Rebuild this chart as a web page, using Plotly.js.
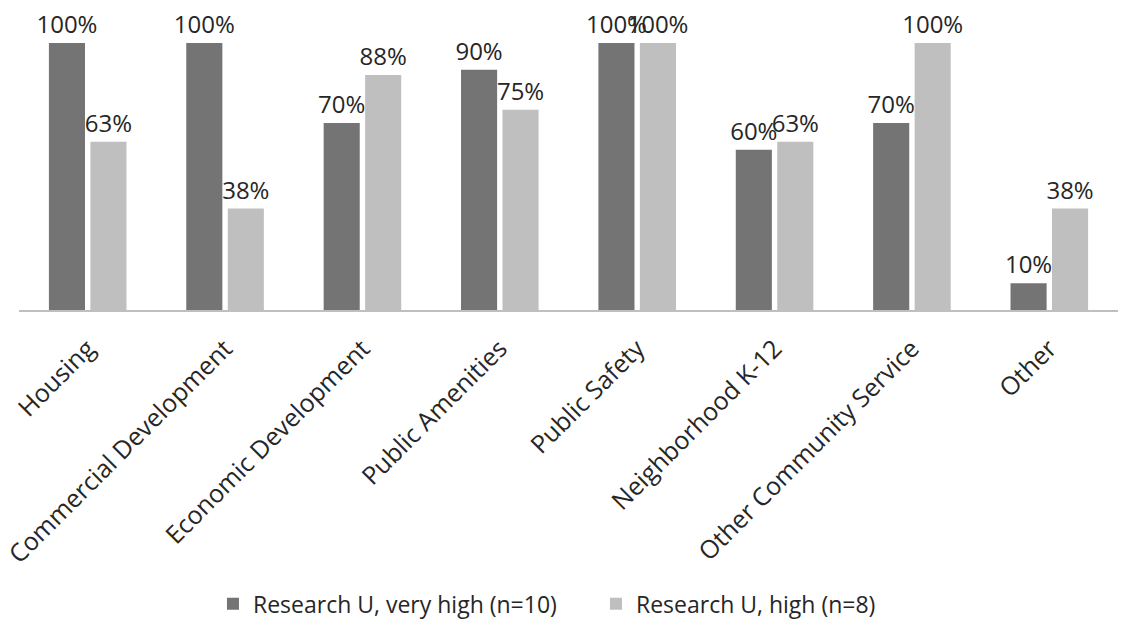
<!DOCTYPE html>
<html>
<head>
<meta charset="utf-8">
<script src="https://cdn.plot.ly/plotly-3.0.1.min.js"></script>
<style>
  html, body { margin: 0; padding: 0; background: #fff; }
  #chart { width: 1121px; height: 628px; }
</style>
</head>
<body>
<div id="chart"></div>
<script>
// Share of institutions reporting each community-investment area
const categories = [
  "Housing", "Commercial Development", "Economic Development", "Public Amenities",
  "Public Safety", "Neighborhood K-12", "Other Community Service", "Other"
];
const veryHighName = "Research U, very high (n=10)";
const veryHighValues = [100, 100, 70, 90, 100, 60, 70, 10];
const highName = "Research U, high (n=8)";
const highValues = [63, 38, 88, 75, 100, 63, 100, 38];

const fontFamily = "'Open Sans', Lato, sans-serif";
const textColor = "#262626";

const common = {
  type: "bar",
  x: categories,
  texttemplate: "%{y}%",
  textposition: "outside",
  constraintext: "none",
  cliponaxis: false,
  textfont: { family: fontFamily, size: 24, color: textColor },
  hoverinfo: "skip"
};

const traces = [
  Object.assign({}, common, {
    name: veryHighName,
    y: veryHighValues,
    marker: { color: "#747474" }
  }),
  Object.assign({}, common, {
    name: highName,
    y: highValues,
    marker: { color: "#bfbfbf" }
  })
];

const layout = {
  width: 1121,
  height: 628,
  margin: { l: 19, r: 3, t: 43, b: 314 },
  paper_bgcolor: "#ffffff",
  plot_bgcolor: "#ffffff",
  barmode: "group",
  bargap: 0.396,
  bargroupgap: 0.13,
  font: { family: fontFamily, color: textColor },
  xaxis: {
    showline: true,
    linecolor: "#bfbfbf",
    linewidth: 2,
    ticks: "",
    tickangle: -45,
    ticklabelstandoff: 12,
    tickfont: { family: fontFamily, size: 25, color: textColor },
    showgrid: false,
    zeroline: false,
    fixedrange: true
  },
  yaxis: {
    range: [0, 100],
    visible: false,
    showgrid: false,
    zeroline: false,
    fixedrange: true
  },
  showlegend: true,
  legend: {
    orientation: "h",
    x: 0.525,
    xanchor: "center",
    y: -1.1,
    yanchor: "middle",
    font: { family: fontFamily, size: 23, color: textColor },
    itemwidth: 30,
    entrywidth: 338,
    tracegroupgap: 0
  }
};

Plotly.newPlot("chart", traces, layout, { displayModeBar: false, staticPlot: true });
</script>
</body>
</html>
